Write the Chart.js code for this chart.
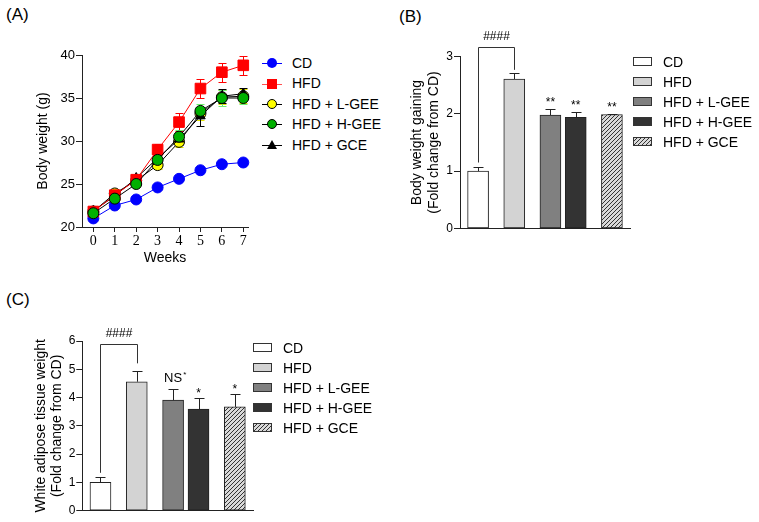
<!DOCTYPE html>
<html>
<head>
<meta charset="utf-8">
<script src="https://cdn.jsdelivr.net/npm/chart.js@4.4.1/dist/chart.umd.min.js"></script>
<style>
  body { margin: 0; background: #fff; font-family: "Liberation Sans", Arial, sans-serif; color: #000; }
  #fig { position: relative; width: 759px; height: 522px; overflow: hidden; background: #fff; }
  canvas { position: absolute; }
  .tag { position: absolute; font-size: 17px; line-height: 20px; }
  .legend { position: absolute; font-size: 14px; }
  .legend .row { position: relative; padding-left: 30px; white-space: nowrap; }
  .legend .ln { position: absolute; left: 0; width: 20px; top: 50%; border-top: 1px solid #000; }
  .legend .mk { position: absolute; box-sizing: border-box; }
  .legend .box { position: absolute; left: 0; top: 50%; width: 19px; height: 9px; margin-top: -5px; box-sizing: border-box; border: 1px solid #333; }
</style>
</head>
<body>
<div id="fig">
  <div class="tag" style="left:6px;top:5px">(A)</div>
  <div class="tag" style="left:399px;top:7px">(B)</div>
  <div class="tag" style="left:6px;top:290px">(C)</div>
  <canvas id="chartA" width="260" height="280" style="left:0;top:0"></canvas>
  <canvas id="chartB" width="250" height="260" style="left:390px;top:0"></canvas>
  <canvas id="chartC" width="260" height="242" style="left:0;top:280px"></canvas>
  <div class="legend" id="legA" style="left:262px;top:53px"></div>
  <div class="legend" id="legB" style="left:633px;top:52px"></div>
  <div class="legend" id="legC" style="left:253px;top:338px"></div>
</div>
<script>
// ---- data ----
const groups = ['CD', 'HFD', 'HFD + L-GEE', 'HFD + H-GEE', 'HFD + GCE'];

// (A) body weight by week
const weeks = [0, 1, 2, 3, 4, 5, 6, 7];
const weightCD   = [21.0, 22.5, 23.2, 24.6, 25.6, 26.6, 27.3, 27.5];
const weightHFD  = [21.8, 23.7, 25.5, 29.0, 32.2, 36.1, 38.0, 38.8];
const weightLGEE = [21.8, 23.9, 25.4, 27.2, 29.9, 33.2, 35.1, 35.2];
const weightHGEE = [21.6, 23.3, 25.0, 27.8, 30.5, 33.5, 35.0, 35.0];
const weightGCE  = [21.9, 23.6, 25.7, 28.0, 30.2, 32.9, 35.2, 35.5];
const errCD   = [0.2, 0.2, 0.2, 0.2, 0.2, 0.2, 0.2, 0.2];
const errHFD  = [0.3, 0.3, 0.3, 0.6, 1.0, 1.1, 1.1, 1.1];
const errLGEE = [0.3, 0.3, 0.3, 0.5, 0.6, 0.8, 0.8, 0.8];
const errHGEE = [0.3, 0.3, 0.4, 0.6, 0.8, 0.8, 0.9, 0.7];
const errGCE  = [0.3, 0.3, 0.3, 0.5, 0.7, 1.1, 0.8, 0.7];
const weightTicks = [20, 25, 30, 35, 40];

// (B) body weight gain, fold change from CD
const gainMean = [1.00, 2.61, 1.98, 1.94, 1.99];
const gainErr  = [0.08, 0.10, 0.11, 0.10, 0.01];
const gainSig  = ['', '', '**', '**', '**'];
const gainTicks = [0, 1, 2, 3];

// (C) white adipose tissue weight, fold change from CD
const watMean = [1.00, 4.56, 3.91, 3.59, 3.67];
const watErr  = [0.20, 0.38, 0.38, 0.38, 0.44];
const watSig  = ['', '', 'NS*', '*', '*'];
const watTicks = [0, 1, 2, 3, 4, 5, 6];

// ---- layout / style ----
const barSlots = [0, 1, 2, 2.7, 3.7];
const FONT = 'Liberation Sans';

function hatch() {
  const c = document.createElement('canvas');
  c.width = 4; c.height = 4;
  const g = c.getContext('2d');
  g.fillStyle = '#d9d9d9';
  g.fillRect(0, 0, 4, 4);
  g.strokeStyle = '#333';
  g.lineWidth = 1;
  g.beginPath();
  g.moveTo(0, 4); g.lineTo(4, 0);
  g.moveTo(-1, 1); g.lineTo(1, -1);
  g.moveTo(3, 5); g.lineTo(5, 3);
  g.stroke();
  return g.createPattern(c, 'repeat');
}
const barFill = ['#ffffff', '#d3d3d3', '#808080', '#333333', hatch()];

function paintErrors(chart, opts) {
  const ctx = chart.ctx, ys = chart.scales.y;
  chart.data.datasets.forEach((ds, di) => {
    if (!ds.errors) return;
    const meta = chart.getDatasetMeta(di);
    ctx.save();
    ctx.lineWidth = 1;
    ctx.strokeStyle = ds.errorColor || '#000';
    meta.data.forEach((el, i) => {
      const v = ds.data[i].y, e = ds.errors[i];
      const x = Math.round(el.x) + 0.5;
      const top = Math.round(ys.getPixelForValue(v + e)) + 0.5;
      const bot = opts.upOnly ? el.y : Math.round(ys.getPixelForValue(v - e)) + 0.5;
      ctx.beginPath();
      ctx.moveTo(x, top); ctx.lineTo(x, bot);
      ctx.moveTo(x - opts.cap, top); ctx.lineTo(x + opts.cap, top);
      if (!opts.upOnly) { ctx.moveTo(x - opts.cap, bot); ctx.lineTo(x + opts.cap, bot); }
      ctx.stroke();
    });
    ctx.restore();
  });
}

const errorBars = {
  id: 'errorBars',
  beforeDatasetsDraw(chart, args, opts) { if (opts.behind) paintErrors(chart, opts); },
  afterDatasetsDraw(chart, args, opts) { if (!opts.behind) paintErrors(chart, opts); }
};

const sigMarks = {
  id: 'sigMarks',
  afterDatasetsDraw(chart, args, opts) {
    const ctx = chart.ctx, ys = chart.scales.y;
    const ds = chart.data.datasets[0];
    const meta = chart.getDatasetMeta(0);
    ctx.save();
    ctx.fillStyle = '#000';
    ctx.textBaseline = 'alphabetic';
    opts.labels.forEach((lab, i) => {
      if (!lab) return;
      const x = meta.data[i].x;
      const top = ys.getPixelForValue(ds.data[i].y + ds.errors[i]);
      const word = lab.replace(/\*+$/, ''), stars = lab.slice(word.length);
      if (word) {
        ctx.font = '13px "' + FONT + '"';
        const w = ctx.measureText(word).width;
        ctx.textAlign = 'center';
        ctx.fillText(word, x, top - opts.wordGap);
        ctx.font = '8px "' + FONT + '"';
        ctx.textAlign = 'left';
        ctx.fillText(stars, x + w / 2 + 1, top - opts.wordGap - 5);
      } else {
        ctx.font = '12px "' + FONT + '"';
        ctx.textAlign = 'center';
        ctx.fillText(stars, x, top - opts.gap);
      }
    });
    const b = opts.bracket;
    const xa = Math.round(meta.data[b.from].x) + 0.5;
    const xb = Math.round(meta.data[b.to].x) + 0.5;
    const yTop = Math.round(ys.getPixelForValue(b.top)) + 0.5;
    ctx.strokeStyle = '#333';
    ctx.lineWidth = 1;
    ctx.beginPath();
    ctx.moveTo(xa, ys.getPixelForValue(b.fromEnd));
    ctx.lineTo(xa, yTop);
    ctx.lineTo(xb, yTop);
    ctx.lineTo(xb, ys.getPixelForValue(b.toEnd));
    ctx.stroke();
    ctx.font = '12px "' + FONT + '"';
    ctx.textAlign = 'center';
    ctx.fillText(b.text, (xa + xb) / 2, yTop - 8);
    ctx.restore();
  }
};

function yAxis(ticks, yWidth, title, titlePad, tickSize) {
  return {
    type: 'linear',
    min: ticks[0],
    max: ticks[ticks.length - 1],
    afterFit: s => { s.width = yWidth; },
    afterBuildTicks: s => { s.ticks = ticks.map(v => ({ value: v })); },
    border: { color: '#222', width: 1 },
    grid: { display: true, drawOnChartArea: false, drawTicks: true, tickLength: 6, color: '#222' },
    ticks: { color: '#000', font: { family: FONT, size: tickSize }, padding: 1 },
    title: { display: true, text: title, color: '#000', font: { family: FONT, size: 14 }, padding: { top: titlePad, bottom: 0 } }
  };
}

// ---- (A) line chart ----
function series(label, vals, errs, color, style, fill, radius, errColor) {
  return {
    label: label,
    data: weeks.map((w, i) => ({ x: w, y: vals[i] })),
    errors: errs,
    errorColor: errColor,
    borderColor: color,
    borderWidth: 1,
    pointStyle: style,
    pointRadius: radius,
    pointBackgroundColor: fill,
    pointBorderColor: style === 'circle' && fill !== color ? '#000' : fill,
    pointBorderWidth: 1,
    tension: 0,
    clip: false
  };
}

const dsA = [
  series(groups[0], weightCD, errCD, '#0000ff', 'circle', '#0000ff', 5.5, '#0000ff'),
  series(groups[1], weightHFD, errHFD, '#ff0000', 'rect', '#ff0000', 7.5, '#ff0000'),
  series(groups[2], weightLGEE, errLGEE, '#000000', 'circle', '#ffff00', 5.5, '#e0e000'),
  series(groups[3], weightHGEE, errHGEE, '#000000', 'circle', '#00b000', 5.5, '#6cf06c'),
  series(groups[4], weightGCE, errGCE, '#000000', 'triangle', '#000000', 5.5, '#000000')
];
dsA[0].order = 5; dsA[1].order = 2; dsA[2].order = 4; dsA[3].order = 1; dsA[4].order = 3;

new Chart(document.getElementById('chartA'), {
  type: 'line',
  data: { datasets: dsA },
  plugins: [errorBars],
  options: {
    responsive: false,
    animation: false,
    events: [],
    layout: { padding: { top: 55, right: 12, left: 0, bottom: 0 } },
    plugins: {
      legend: { display: false },
      tooltip: { enabled: false },
      errorBars: { behind: true, upOnly: false, cap: 4 }
    },
    scales: {
      x: {
        type: 'linear',
        min: -0.53,
        max: 7.22,
        afterFit: s => { s.height = 53; },
        afterBuildTicks: s => { s.ticks = weeks.map(v => ({ value: v })); },
        border: { color: '#222', width: 1 },
        grid: { display: true, drawOnChartArea: false, drawTicks: true, tickLength: 5, color: '#222' },
        ticks: { color: '#000', font: { family: 'Liberation Serif', size: 14 }, padding: 1 },
        title: { display: true, text: 'Weeks', color: '#000', font: { family: FONT, size: 14 }, padding: { top: 0, bottom: 13.6 } }
      },
      y: yAxis(weightTicks, 82, 'Body weight (g)', 35, 13)
    }
  }
});

// ---- (B), (C) bar charts ----
function barChart(id, means, errs, sig, ticks, opt) {
  return new Chart(document.getElementById(id), {
    type: 'bar',
    data: {
      datasets: [{
        data: barSlots.map((s, i) => ({ x: s, y: means[i] })),
        errors: errs,
        errorColor: '#222',
        backgroundColor: barFill,
        borderColor: '#222',
        borderWidth: 1,
        borderSkipped: false,
        barThickness: 21
      }]
    },
    plugins: [errorBars, sigMarks],
    options: {
      responsive: false,
      animation: false,
      events: [],
      layout: { padding: opt.padding },
      plugins: {
        legend: { display: false },
        tooltip: { enabled: false },
        errorBars: { behind: false, upOnly: true, cap: 5 },
        sigMarks: { labels: sig, gap: opt.gap, wordGap: opt.wordGap, bracket: opt.bracket }
      },
      scales: {
        x: {
          type: 'linear',
          min: -0.5,
          max: 4.2,
          offset: false,
          afterFit: s => { s.height = 0; },
          border: { color: '#222', width: 1 },
          grid: { display: false, offset: false },
          ticks: { display: false }
        },
        y: yAxis(ticks, opt.yWidth, opt.title, opt.titlePad, 12)
      }
    }
  });
}

barChart('chartB', gainMean, gainErr, gainSig, gainTicks, {
  padding: { top: 56.7, right: 10, left: 0, bottom: 31.7 },
  yWidth: 70,
  title: ['Body weight gaining', '(Fold change from CD)'],
  titlePad: 19,
  gap: 3,
  wordGap: 7,
  bracket: { from: 0, to: 1, fromEnd: 1.15, toEnd: 2.77, top: 3.17, text: '####' }
});

barChart('chartC', watMean, watErr, watSig, watTicks, {
  padding: { top: 61, right: 7, left: 0, bottom: 11.3 },
  yWidth: 82.3,
  title: ['White adipose tissue weight', '(Fold change from CD)'],
  titlePad: 32.4,
  gap: 1,
  wordGap: 7.5,
  bracket: { from: 0, to: 1, fromEnd: 1.34, toEnd: 5.21, top: 5.89, text: '####' }
});

// ---- legends ----
const lineKeys = [
  { line: '#0000ff', css: 'width:10px;height:10px;border-radius:50%;background:#0000ff;' },
  { line: '#ff5050', css: 'width:10px;height:10px;background:#ff0000;' },
  { line: '#000000', css: 'width:10px;height:10px;border-radius:50%;background:#ffff00;border:1px solid #000;' },
  { line: '#000000', css: 'width:10px;height:10px;border-radius:50%;background:#00b000;border:1px solid #000;' },
  { line: '#000000', css: 'width:0;height:0;border-left:5px solid transparent;border-right:5px solid transparent;border-bottom:9px solid #000;' }
];
const legA = document.getElementById('legA');
groups.forEach((g, i) => {
  const row = document.createElement('div');
  row.className = 'row';
  row.style.height = row.style.lineHeight = '20.4px';
  const k = lineKeys[i];
  row.innerHTML = '<i class="ln" style="border-color:' + k.line + '"></i>' +
    '<b class="mk" style="left:5px;top:50%;margin-top:-5px;' + k.css + '"></b>' + g;
  legA.appendChild(row);
});

const boxCss = ['background:#fff', 'background:#d3d3d3', 'background:#808080', 'background:#333',
  'background:repeating-linear-gradient(135deg,#d9d9d9 0 1.6px,#333 1.6px 2.8px)'];
['legB', 'legC'].forEach(id => {
  const el = document.getElementById(id);
  groups.forEach((g, i) => {
    const row = document.createElement('div');
    row.className = 'row';
    row.style.height = row.style.lineHeight = '20px';
    row.innerHTML = '<i class="box" style="' + boxCss[i] + '"></i>' + g;
    el.appendChild(row);
  });
});
</script>
</body>
</html>
